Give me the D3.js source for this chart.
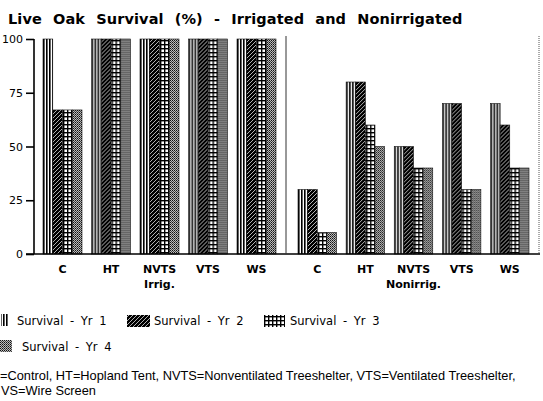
<!DOCTYPE html>
<html><head><meta charset="utf-8">
<script src="https://cdn.jsdelivr.net/npm/d3@7"></script>
<style>
html,body{margin:0;padding:0;background:#fff;overflow:hidden}
svg{display:block}
</style></head>
<body>
<script>
const categories = ["C","HT","NVTS","VTS","WS"];
const seriesNames = ["Survival - Yr 1","Survival - Yr 2","Survival - Yr 3","Survival - Yr 4"];
// values per category: [Yr1, Yr2, Yr3, Yr4]
const irrigated = [[100,67,67,67],[100,100,100,100],[100,100,100,100],[100,100,100,100],[100,100,100,100]];
const nonirrigated = [[30,30,10,10],[80,80,60,50],[50,50,40,40],[70,70,30,30],[70,60,40,40]];
const yTicks = [0,25,50,75,100];
const panelLabels = ["Irrig.","Nonirrig."];

const W = 543, H = 401;
const svg = d3.select("body").append("svg").attr("width",W).attr("height",H);
const defs = svg.append("defs");

// patterns
const p1 = defs.append("pattern").attr("id","pat0").attr("patternUnits","userSpaceOnUse").attr("width",3).attr("height",4);
p1.append("rect").attr("width",3).attr("height",4).attr("fill","#fff");
p1.append("rect").attr("x",0).attr("width",1.6).attr("height",4).attr("fill","#000");

const p2 = defs.append("pattern").attr("id","pat1").attr("patternUnits","userSpaceOnUse").attr("width",4).attr("height",4);
p2.append("rect").attr("width",4).attr("height",4).attr("fill","#000");
p2.append("path").attr("d","M0,4 L4,0 M-1,1 L1,-1 M3,5 L5,3").attr("stroke","#fff").attr("stroke-width",0.7);

const p3 = defs.append("pattern").attr("id","pat2").attr("patternUnits","userSpaceOnUse").attr("width",4).attr("height",4);
p3.append("rect").attr("width",4).attr("height",4).attr("fill","#fff");
p3.append("rect").attr("x",0).attr("y",0).attr("width",4).attr("height",1.4).attr("fill","#000");
p3.append("rect").attr("x",0).attr("y",0).attr("width",1.4).attr("height",4).attr("fill","#000");

const p4 = defs.append("pattern").attr("id","pat3").attr("patternUnits","userSpaceOnUse").attr("width",2).attr("height",2);
p4.append("rect").attr("width",2).attr("height",2).attr("fill","#bbb");
p4.append("rect").attr("x",0).attr("y",0).attr("width",1).attr("height",1).attr("fill","#111");
p4.append("rect").attr("x",1).attr("y",1).attr("width",1).attr("height",1).attr("fill","#444");

// title
svg.append("text").attr("x",8).attr("y",24)
  .attr("font-family","DejaVu Sans").attr("font-size",14.5).attr("font-weight","bold")
  .attr("word-spacing",6).attr("letter-spacing",0.1).attr("fill","#000")
  .text("Live Oak Survival (%) - Irrigated and Nonirrigated");

// scales
const y = d3.scaleLinear().domain([0,100]).range([254,39]);
const xPanels = [
  d3.scaleBand().domain(categories).range([43,276]).paddingInner(0.196).paddingOuter(0),
  d3.scaleBand().domain(categories).range([298,529]).paddingInner(0.2).paddingOuter(0)
];
const panelData = [irrigated, nonirrigated];

panelData.forEach((data,pi)=>{
  const x0 = xPanels[pi];
  const x1 = d3.scaleBand().domain(d3.range(seriesNames.length)).range([0,x0.bandwidth()]).padding(0);
  const g = svg.append("g");
  const groups = g.selectAll("g").data(data).join("g")
    .attr("transform",(d,i)=>`translate(${x0(categories[i])},0)`);
  groups.selectAll("rect").data(d=>d).join("rect")
    .attr("x",(d,j)=>x1(j))
    .attr("y",d=>y(d))
    .attr("width",x1.bandwidth())
    .attr("height",d=>y(0)-y(d))
    .attr("fill",(d,j)=>`url(#pat${j})`)
    .attr("stroke","#111").attr("stroke-width",0.6);
  // category labels
  svg.append("g").selectAll("text").data(categories).join("text")
    .attr("x",d=>x0(d)+x0.bandwidth()/2).attr("y",273)
    .attr("text-anchor","middle")
    .attr("font-family","DejaVu Sans").attr("font-size",11).attr("font-weight","bold")
    .text(d=>d);
  svg.append("text").attr("x",x0("NVTS")+x0.bandwidth()/2).attr("y",288)
    .attr("text-anchor","middle")
    .attr("font-family","DejaVu Sans").attr("font-size",11).attr("font-weight","bold")
    .text(panelLabels[pi]);
});

// y axis
const yAxis = d3.axisLeft(y).tickValues(yTicks).tickSize(8).tickPadding(3).tickFormat(d3.format("d"));
const ag = svg.append("g").attr("transform","translate(34,0)").call(yAxis);
ag.select(".domain").attr("stroke","#000").attr("stroke-width",1.6).attr("d","M0,39V254");
ag.selectAll(".tick line").attr("stroke","#000").attr("stroke-width",1.6);
ag.selectAll(".tick text").attr("font-family","DejaVu Sans").attr("font-size",11).attr("fill","#000");

// baseline
svg.append("line").attr("x1",26).attr("x2",540).attr("y1",y(0)).attr("y2",y(0)).attr("stroke","#000").attr("stroke-width",1.6);
// separator and right border
svg.append("line").attr("x1",286).attr("x2",286).attr("y1",36).attr("y2",y(0)).attr("stroke","#333").attr("stroke-width",1);
svg.append("line").attr("x1",539).attr("x2",539).attr("y1",36).attr("y2",y(0)).attr("stroke","#555").attr("stroke-width",1).attr("stroke-dasharray","1,1");

// legend
const legendItems = [
  {sx:1, sw:8, ty:325, tx:17, sy:314},
  {sx:127, sw:23, ty:325, tx:154, sy:315},
  {sx:264, sw:21, ty:325, tx:290, sy:315},
  {sx:0, sw:12, ty:351, tx:22, sy:340}
];
const lg = svg.append("g");
legendItems.forEach((it,i)=>{
  lg.append("rect").attr("x",it.sx).attr("y",it.sy).attr("width",it.sw).attr("height",12)
    .attr("fill",`url(#pat${i})`);
  lg.append("text").attr("x",it.tx).attr("y",it.ty)
    .attr("font-family","DejaVu Sans").attr("font-size",11.5).attr("word-spacing",3)
    .text(seriesNames[i]);
});

// footnote
svg.append("text").attr("x",0).attr("y",380)
  .attr("font-family","Liberation Sans").attr("font-size",12.8)
  .text("=Control, HT=Hopland Tent, NVTS=Nonventilated Treeshelter, VTS=Ventilated Treeshelter,");
svg.append("text").attr("x",1).attr("y",395)
  .attr("font-family","Liberation Sans").attr("font-size",12.8)
  .text("VS=Wire Screen");
</script>
</body></html>
